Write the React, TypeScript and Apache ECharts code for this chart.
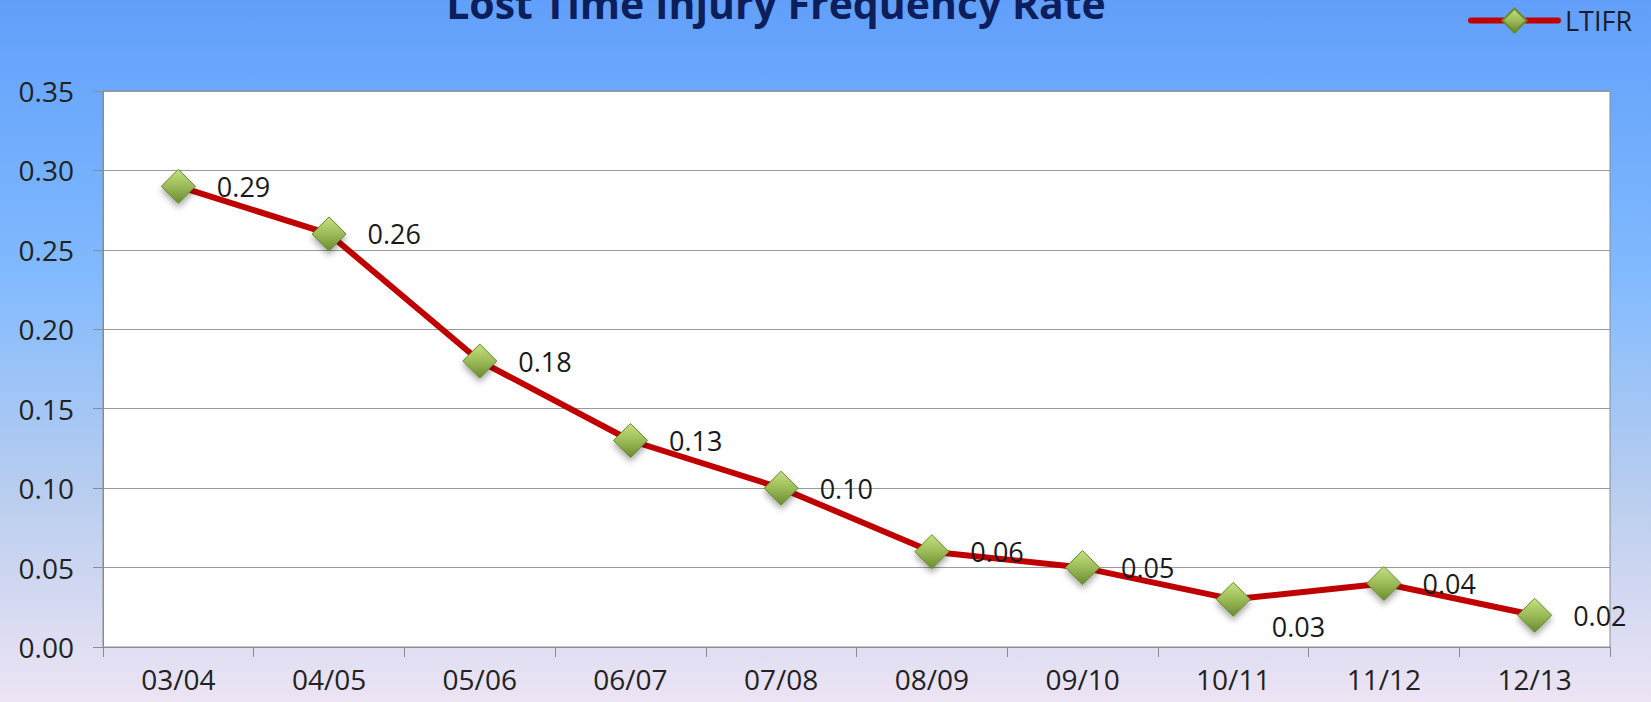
import React, { useEffect, useRef } from "react";
import * as echarts from "echarts";

const categories = ["03/04", "04/05", "05/06", "06/07", "07/08", "08/09", "09/10", "10/11", "11/12", "12/13"];
const ltifrValues = [0.29, 0.26, 0.18, 0.13, 0.1, 0.06, 0.05, 0.03, 0.04, 0.02];
const yTicks = { min: 0, max: 0.35, interval: 0.05 };
const belowLabelIndex = [7];

export default function App() {
  const ref = useRef<HTMLDivElement>(null);
  useEffect(() => {
    if (!ref.current) return;
    const chart = echarts.init(ref.current, undefined, { renderer: "svg" });
    const font = "'Open Sans', 'Noto Sans', sans-serif";
    const markerColor = new echarts.graphic.LinearGradient(0, 0, 0, 1, [
      { offset: 0, color: "#c6e07f" },
      { offset: 0.5, color: "#9bbb59" },
      { offset: 1, color: "#6c8a2e" },
    ]);
    const data = ltifrValues.map((v, i) => {
      const item: any = { value: v };
      if (belowLabelIndex.includes(i)) {
        item.label = { offset: [0, 27] };
      }
      return item;
    });
    chart.setOption({
      animation: false,
      backgroundColor: new echarts.graphic.LinearGradient(0, 0, 0, 1, [
        { offset: 0, color: "#619ffa" },
        { offset: 0.38, color: "#80b9ff" },
        { offset: 0.7, color: "#b8cdef" },
        { offset: 1, color: "#ede4f4" },
      ]),
      graphic: [
        {
          type: "text",
          style: {
            text: "Lost Time Injury Frequency Rate",
            x: 776,
            y: 3,
            align: "center",
            verticalAlign: "middle",
            fontFamily: font,
            fontWeight: "bold",
            fontSize: 41,
            fill: "#0d1f5a",
          },
        },
      ],
      legend: {
        left: 1463,
        top: 2,
        itemWidth: 87,
        itemHeight: 30,
        data: [{ name: "LTIFR", lineStyle: { width: 6, color: "#c00000", cap: "round" } }],
        textStyle: { fontFamily: font, fontSize: 27, color: "#1a1a2a", padding: [0, 0, 0, 2] },
      },
      grid: {
        left: 103,
        right: 41,
        top: 91,
        bottom: 55,
        show: true,
        backgroundColor: "#ffffff",
        borderColor: "#8c8c8c",
        borderWidth: 1,
      },
      xAxis: {
        type: "category",
        data: categories,
        boundaryGap: true,
        axisLine: { lineStyle: { color: "#8c8c8c", width: 1 } },
        axisTick: { show: true, length: 10, lineStyle: { color: "#8c8c8c" } },
        axisLabel: { fontFamily: font, fontSize: 28, lineHeight: 28, color: "#222", margin: 18 },
      },
      yAxis: {
        type: "value",
        min: yTicks.min,
        max: yTicks.max,
        interval: yTicks.interval,
        axisLine: { show: true, lineStyle: { color: "#8c8c8c", width: 1 } },
        axisTick: { show: true, length: 10, lineStyle: { color: "#8c8c8c" } },
        splitLine: { lineStyle: { color: "#9a9a9a", width: 1 } },
        axisLabel: {
          fontFamily: font,
          fontSize: 28,
          color: "#222",
          margin: 29,
          formatter: (v: number) => v.toFixed(2),
        },
      },
      series: [
        {
          name: "LTIFR",
          type: "line",
          data,
          symbol: "diamond",
          symbolSize: 34,
          lineStyle: { color: "#c00000", width: 6 },
          itemStyle: {
            color: markerColor,
            borderColor: "#6a8a2b",
            borderWidth: 1,
            shadowBlur: 6,
            shadowColor: "rgba(0,0,0,0.35)",
            shadowOffsetY: 4,
          },
          label: {
            show: true,
            position: "right",
            distance: 21,
            fontFamily: font,
            fontSize: 27,
            color: "#1a1a1a",
            formatter: (p: any) => Number(p.value).toFixed(2),
          },
          z: 3,
        },
      ],
    });
    return () => chart.dispose();
  }, []);
  return <div ref={ref} style={{ position: "fixed", left: 0, top: 0, width: 1651, height: 702 }} />;
}
